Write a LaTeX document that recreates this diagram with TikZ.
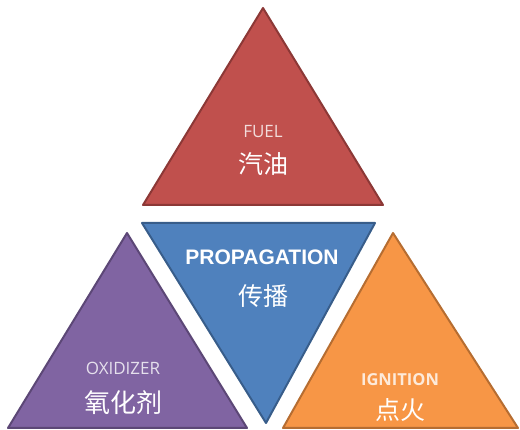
\documentclass[tikz,border=0pt]{standalone}
\usepackage{fontspec}
\setmainfont{Liberation Sans}
\newfontfamily\cjk{Noto Sans CJK SC}
\newfontfamily\lightsans{Open Sans}
\definecolor{fuelred}{HTML}{C0504D}
\definecolor{fuelredd}{HTML}{8C3836}
\definecolor{oxpurple}{HTML}{8064A2}
\definecolor{oxpurpled}{HTML}{5C4776}
\definecolor{propblue}{HTML}{4F81BD}
\definecolor{propblued}{HTML}{385D8A}
\definecolor{ignorange}{HTML}{F79646}
\definecolor{ignoranged}{HTML}{B66D31}
\begin{document}
\begin{tikzpicture}[x=1pt,y=-1pt,
  tri/.style={line width=2pt, line join=round},
  entext/.style={font=\lightsans\fontsize{17}{19}\selectfont, text=white, text opacity=0.8, inner sep=0pt},
  cntext/.style={font=\cjk\fontsize{25}{27}\selectfont, text=white, inner sep=0pt}]
\useasboundingbox (0,0) rectangle (520,430);
% top red triangle
\coordinate (fA) at (263,8);
\coordinate (fB) at (143,205);
\coordinate (fC) at (383,205);
\filldraw[tri, fill=fuelred, draw=fuelredd] (fA) -- (fB) -- (fC) -- cycle;
% purple triangle
\coordinate (oA) at (127,233);
\coordinate (oB) at (8,428);
\coordinate (oC) at (247,428);
\filldraw[tri, fill=oxpurple, draw=oxpurpled] (oA) -- (oB) -- (oC) -- cycle;
% blue inverted triangle
\coordinate (pA) at (142,223);
\coordinate (pB) at (375,223);
\coordinate (pC) at (266,423);
\filldraw[tri, fill=propblue, draw=propblued] (pA) -- (pB) -- (pC) -- cycle;
% orange triangle
\coordinate (iA) at (393,233);
\coordinate (iB) at (283,428);
\coordinate (iC) at (518,428);
\filldraw[tri, fill=ignorange, draw=ignoranged] (iA) -- (iB) -- (iC) -- cycle;
% texts
\node[entext] (fuelen) at (263,132) {FUEL};
\node[cntext] (fuelcn) at (263,164) {汽油};
\node[font=\bfseries\fontsize{21}{23}\selectfont, text=white, inner sep=0pt] (propen) at (262,257) {PROPAGATION};
\node[cntext] (propcn) at (263,296) {传播};
\node[entext] (oxen) at (123,368) {OXIDIZER};
\node[cntext, font=\cjk\fontsize{26}{28}\selectfont] (oxcn) at (123,403) {氧化剂};
\node[entext, font=\lightsans\bfseries\fontsize{16.5}{18}\selectfont] (ignen) at (400,380) {IGNITION};
\node[cntext] (igncn) at (400,410) {点火};
\end{tikzpicture}
\end{document}
